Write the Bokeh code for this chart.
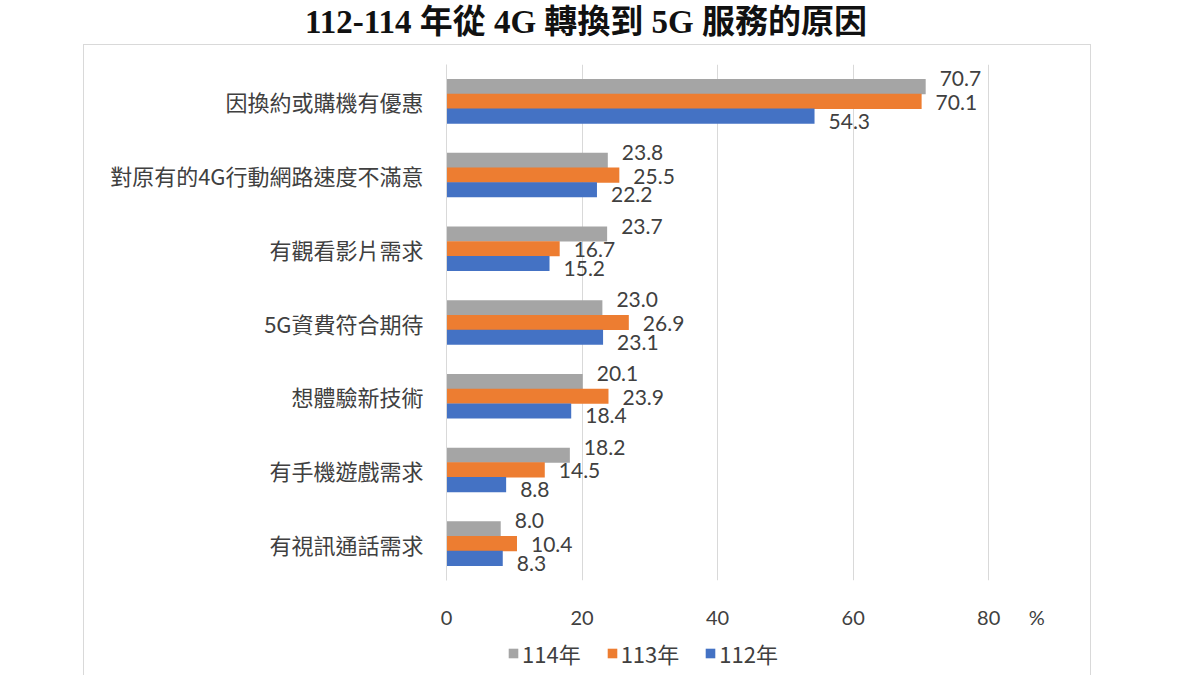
from bokeh.core.properties import value
from bokeh.embed import file_html
from bokeh.layouts import column
from bokeh.models import (
    ColumnDataSource,
    Div,
    FactorRange,
    FixedTicker,
    LabelSet,
    Legend,
    LegendItem,
    Range1d,
)
from bokeh.plotting import figure
from bokeh.resources import INLINE
from bokeh.transform import dodge

# data, top to bottom as in the chart
categories = [
    "因換約或購機有優惠",
    "對原有的4G行動網路速度不滿意",
    "有觀看影片需求",
    "5G資費符合期待",
    "想體驗新技術",
    "有手機遊戲需求",
    "有視訊通話需求",
]
y114 = [70.7, 23.8, 23.7, 23.0, 20.1, 18.2, 8.0]
y113 = [70.1, 25.5, 16.7, 26.9, 23.9, 14.5, 10.4]
y112 = [54.3, 22.2, 15.2, 23.1, 18.4, 8.8, 8.3]
x_ticks = [0, 20, 40, 60, 80]
unit_label = "%"
title_text = "112-114 年從 4G 轉換到 5G 服務的原因"

TEXT = "#404040"
GRID = "#d9d9d9"
CJK = "Noto Sans CJK TC"
NUM = "Lato"

src = ColumnDataSource(
    dict(
        cat=categories,
        y114=y114,
        y113=y113,
        y112=y112,
        t114=[f"{v:.1f}" for v in y114],
        t113=[f"{v:.1f}" for v in y113],
        t112=[f"{v:.1f}" for v in y112],
    )
)

# the unit sign sits in the tick row, a little right of the last tick
unit_pos = 87.1

p = figure(
    width=1006,
    height=586,
    x_range=Range1d(0, 90),
    y_range=FactorRange(factors=list(reversed(categories))),
    output_backend="svg",
    toolbar_location=None,
    min_border_left=362,
    min_border_right=34,
    min_border_top=19,
    min_border_bottom=43,
)
p.outline_line_color = None
p.background_fill_color = "white"
p.border_fill_color = "white"

series = [
    ("y114", "t114", "#a5a5a5", "114年", 0.2, 8),
    ("y113", "t113", "#ed7d31", "113年", 0.0, -1),
    ("y112", "t112", "#4472c4", "112年", -0.2, -5),
]

# small figure under the chart that only carries the legend
lg = figure(
    width=1006,
    height=45,
    x_range=Range1d(0, 1),
    y_range=Range1d(0, 1),
    output_backend="svg",
    toolbar_location=None,
    min_border=0,
)
lg.axis.visible = False
lg.grid.visible = False
lg.outline_line_color = None

items = []
for col, tcol, color, name, off, yoff in series:
    ypos = dodge("cat", off, range=p.y_range)
    p.hbar(
        y=ypos,
        right=col,
        left=0,
        height=0.205,
        source=src,
        fill_color=color,
        line_color=None,
    )
    p.add_layout(
        LabelSet(
            x=col,
            y=ypos,
            text=tcol,
            source=src,
            x_offset=14,
            y_offset=yoff,
            text_baseline="middle",
            text_font=value(NUM),
            text_font_size="21px",
            text_color=TEXT,
        )
    )
    # key glyph kept outside the legend figure's visible range
    key = lg.hbar(y=[-5], right=[0.5], height=0.5, fill_color=color, line_color=None)
    items.append(LegendItem(label=name, renderers=[key]))

# axes
p.xaxis.ticker = FixedTicker(ticks=x_ticks + [unit_pos])
p.xaxis.major_label_overrides = {unit_pos: unit_label}
p.xaxis.axis_line_color = None
p.xaxis.major_tick_line_color = None
p.xaxis.minor_tick_line_color = None
p.xaxis.major_tick_out = 0
p.xaxis.major_label_standoff = 24
p.xaxis.major_label_text_font = NUM
p.xaxis.major_label_text_font_size = "20px"
p.xaxis.major_label_text_color = TEXT

p.yaxis.axis_line_color = GRID
p.yaxis.major_tick_line_color = None
p.yaxis.minor_tick_line_color = None
p.yaxis.major_tick_out = 0
p.yaxis.major_label_standoff = 23
p.yaxis.major_label_text_font = CJK
p.yaxis.major_label_text_font_size = "22px"
p.yaxis.major_label_text_color = TEXT

p.xgrid.ticker = FixedTicker(ticks=x_ticks)
p.xgrid.grid_line_color = GRID
p.ygrid.grid_line_color = None

legend = Legend(
    items=items,
    orientation="horizontal",
    location=(61, 7),
    padding=0,
    margin=0,
    spacing=25,
    glyph_width=12,
    glyph_height=12,
    label_standoff=3,
    label_text_font=CJK,
    label_text_font_size="22px",
    label_text_color=TEXT,
    border_line_color=None,
    background_fill_alpha=0,
)
lg.add_layout(legend)

title = Div(
    text=(
        "<div style=\"width:1172px;height:44px;line-height:44px;margin:0;"
        "text-align:center;font-weight:bold;font-size:33px;color:#111;"
        "font-family:'Liberation Serif','Noto Sans CJK TC';\">"
        + title_text
        + "</div>"
    ),
    width=1172,
    height=44,
    margin=(0, 0, 0, 0),
)

box = column(
    p,
    lg,
    spacing=0,
    margin=(0, 0, 0, 83),
    styles={"border": f"1.5px solid {GRID}", "border-bottom": "none"},
)

layout = column(title, box, spacing=0)

open("out.html", "w").write(file_html(layout, INLINE))
